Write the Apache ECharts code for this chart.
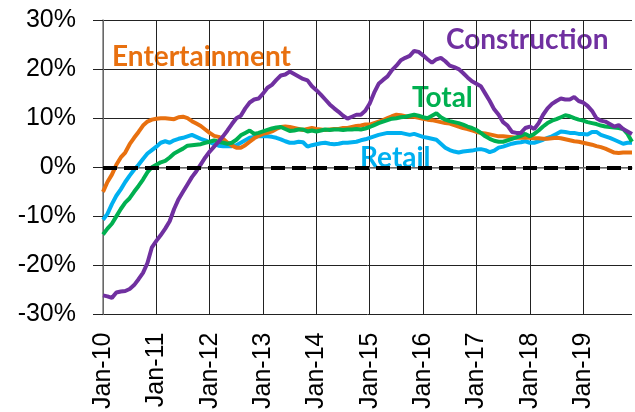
<!DOCTYPE html>
<html>
<head>
<meta charset="utf-8">
<script src="https://cdn.jsdelivr.net/npm/echarts@6/dist/echarts.min.js"></script>
<style>
  html, body { margin: 0; padding: 0; background: #fff; }
  #chart { width: 635px; height: 412px; }
</style>
</head>
<body>
<div id="chart"></div>
<script>
// monthly, Jan-10 .. Dec-19, % change
const months = ['Jan', 'Feb', 'Mar', 'Apr', 'May', 'Jun', 'Jul', 'Aug', 'Sep', 'Oct', 'Nov', 'Dec']
const years = ['10', '11', '12', '13', '14', '15', '16', '17', '18', '19']
const yTicks = [-30, -20, -10, 0, 10, 20, 30]

const construction = [
  -26.1, -26.3, -26.6, -25.5, -25.3, -25.2, -24.8, -24, -22.8, -21.5, -19.5, -16.3,
  -15, -13.8, -12.5, -11, -8.5, -6.5, -5, -3.5, -2, -0.8, 0.6, 2,
  3.2, 4.2, 5.2, 6.3, 7.5, 8.8, 10, 10.5, 12, 13.2, 13.8, 14,
  15, 16.2, 16.8, 17.8, 18.7, 18.9, 19.5, 19, 18.5, 18, 17.7, 16.5,
  15.7, 14.8, 13.8, 12.8, 12, 11.3, 10.5, 9.9, 10.3, 10.7, 10.7, 11.5,
  13, 15.2, 17, 17.8, 18.5, 19.8, 20.7, 21.8, 22.3, 22.7, 23.7, 23.5,
  22.8, 22, 21.3, 22, 22.3, 21.6, 20.7, 20.4, 20, 19.2, 18.3, 17.5,
  17, 16.5, 15, 13.5, 11.8, 10.7, 9.2, 8.5, 7.2, 7, 7, 8,
  8.3, 7.8, 9, 10.7, 12, 12.9, 13.5, 14, 13.8, 13.8, 14.3, 13.5,
  13.2, 12.5, 11.5, 10, 9.5, 9.3, 8.8, 8.3, 8.6, 7.8, 7.3, 6.8
]

const entertainment = [
  -5, -3, -1.5, 0.5, 2, 3, 4.7, 6, 7.2, 8.5, 9.3, 9.7,
  9.9, 10, 10, 9.9, 9.8, 10.2, 10.3, 10, 9.4, 8.9, 8.4, 7.7,
  7, 6.4, 6.2, 5.8, 5, 4.4, 4, 4, 4.5, 5.2, 5.9, 6.4,
  6.8, 7, 7.3, 7.8, 8.2, 8.3, 8.2, 8, 7.8, 7.6, 7.8, 8,
  7.8, 7.7, 7.6, 7.7, 7.8, 7.8, 8, 8, 8.2, 8.4, 8.5, 8.7,
  8.7, 9, 9.3, 9.6, 10, 10.4, 10.7, 10.6, 10.4, 10.3, 10.3, 10.1,
  9.9, 9.7, 9.6, 9.4, 9.2, 9, 8.9, 8.6, 8.3, 8, 7.8, 7.5,
  7.2, 7, 6.9, 6.7, 6.5, 6.3, 6.3, 6.2, 6.1, 6, 6, 6,
  6, 5.9, 5.9, 5.8, 5.8, 5.9, 6, 5.9, 5.7, 5.5, 5.3, 5.2,
  5, 4.8, 4.6, 4.3, 4.1, 3.8, 3.4, 3, 2.9, 3, 3, 3
]

const retail = [
  -10.7, -9.5, -7.5, -5.8, -4.5, -3, -1.7, -0.5, 0.5, 1.7, 2.8, 3.5,
  4.2, 5, 5.3, 5, 5.5, 5.8, 6, 6.3, 6.6, 6.2, 5.8, 5.5,
  5.1, 4.7, 4.4, 4.3, 4.3, 4.3, 4.5, 5, 5.5, 6, 6.2, 6.3,
  6.3, 6.3, 6.2, 6, 5.7, 5.3, 5, 5, 5.2, 5.1, 4.2, 4.5,
  4.7, 4.9, 5, 4.8, 4.7, 4.8, 5, 5, 5.1, 5.2, 5.5, 5.7,
  6, 6.3, 6.6, 6.8, 7, 7, 7, 7, 6.8, 6.6, 6.8, 6.5,
  6.2, 6, 5.8, 5.6, 4.8, 4, 3.5, 3.2, 3, 3.2, 3.3, 3.4,
  3.6, 3.7, 3.5, 3.1, 3.4, 4, 4.2, 4.5, 4.8, 5, 5.1, 5.3,
  5, 5, 5.3, 5.6, 6, 6.3, 6.8, 7.3, 7.2, 7, 7, 6.8,
  6.8, 6.7, 7.2, 7.2, 6.6, 6.3, 6, 5.6, 5.2, 4.8, 5, 5
]

const total = [
  -13.7, -12.5, -11.5, -10, -8.5, -7.2, -6.3, -5, -3.8, -2.5, -1, 0,
  0.5, 1, 1.3, 2, 2.8, 3.3, 3.8, 4.4, 4.5, 4.6, 4.7, 5,
  5.2, 5.5, 5.2, 5, 4.8, 5, 5.6, 6.5, 7, 7.5, 6.8, 7,
  7.3, 7.6, 7.9, 8.1, 8.2, 7.8, 7.4, 7.5, 7.7, 7.7, 7.3, 7.5,
  7.3, 7.5, 7.7, 7.6, 7.7, 7.7, 7.6, 7.7, 7.7, 7.8, 7.7, 7.9,
  8.2, 8.6, 9, 9.3, 9.6, 9.9, 10, 10.2, 10.3, 10.5, 10.7, 10.5,
  10.2, 10, 10.5, 11, 10.2, 9.7, 9.4, 9.2, 9, 8.7, 8.3, 8,
  7.6, 7, 6.3, 5.8, 5.4, 5.2, 5.2, 5.5, 5.8, 6.1, 6.4, 6.8,
  6.3, 6.8, 7.5, 8.3, 9, 9.5, 9.8, 10.2, 10.6, 10.4, 10, 9.7,
  9.5, 9.2, 9, 8.8, 8.5, 8.3, 8.2, 8.1, 8, 7.8, 6.8, 5.2
]

const categories = years.flatMap(y => months.map(m => m + '-' + y))

const colors = {
  construction: '#7030A0',
  entertainment: '#E8700F',
  retail: '#00B0F0',
  total: '#00B050',
}

const axisFont = 'Liberation Sans'

const chart = echarts.init(document.getElementById('chart'))

const lineSeries = (name, data, color, extra) => Object.assign({
  name,
  type: 'line',
  data,
  symbol: 'none',
  smooth: false,
  lineStyle: { color, width: 4 },
  itemStyle: { color },
  animation: false,
}, extra || {})

const label = (text, left, top, color) => ({
  type: 'text',
  left,
  top,
  style: {
    text,
    fill: color,
    font: 'bold 28px Lato, sans-serif',
  },
})

chart.setOption({
  animation: false,
  grid: { left: 103, right: 3, top: 20, bottom: 92, containLabel: false },
  xAxis: {
    type: 'category',
    data: categories,
    boundaryGap: false,
    axisLine: { lineStyle: { color: '#808080', width: 1.5 } },
    axisTick: { show: false },
    axisLabel: {
      interval: 11,
      rotate: 90,
      margin: 18,
      fontSize: 25,
      color: '#000',
      fontFamily: axisFont,
    },
    splitLine: {
      show: true,
      interval: 11,
      lineStyle: { color: '#222', width: 1 },
    },
  },
  yAxis: {
    type: 'value',
    min: yTicks[0],
    max: yTicks[yTicks.length - 1],
    interval: 10,
    axisLine: { show: true, lineStyle: { color: '#808080', width: 1.5 } },
    axisTick: { show: true, length: 10, lineStyle: { color: '#222' } },
    axisLabel: {
      formatter: '{value}%',
      margin: 27,
      fontSize: 25,
      color: '#000',
      fontFamily: axisFont,
    },
    splitLine: { show: true, lineStyle: { color: '#222', width: 1 } },
  },
  series: [
    lineSeries('Retail', retail, colors.retail, {
      markLine: {
        silent: true,
        symbol: 'none',
        label: { show: false },
        lineStyle: { color: '#000', width: 4, type: [14, 7] },
        data: [{ yAxis: 0 }],
      },
    }),
    lineSeries('Entertainment', entertainment, colors.entertainment),
    lineSeries('Total', total, colors.total),
    lineSeries('Construction', construction, colors.construction),
  ],
  graphic: [
    label('Entertainment', 112, 43, colors.entertainment),
    label('Construction', 446, 26, colors.construction),
    label('Total', 412, 84, colors.total),
    label('Retail', 360, 144, colors.retail),
  ],
})
</script>
</body>
</html>
